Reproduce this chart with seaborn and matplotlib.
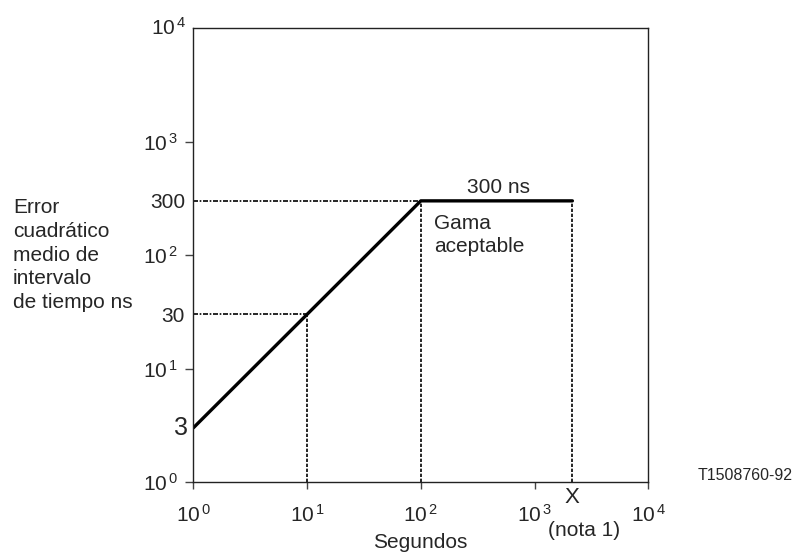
import seaborn as sns
import matplotlib.pyplot as plt
from matplotlib.ticker import FixedLocator, FixedFormatter

# curve: error grows from 3 ns at 1 s to 300 ns at 100 s, then flat to X
seg_x = [1, 10, 100, 2150]
seg_y = [3, 30, 300, 300]

# guide lines
guide_levels = [30, 300]
guide_times = [10, 100, 2150]

x_decades = [1, 10, 100, 1000, 10000]
x_labels = ["0", "1", "2", "3", "4"]
y_decades = [1, 10, 100, 1000]
y_labels = ["0", "1", "2", "3"]
y_marks = [30, 300]

sns.set_theme(style="white")
plt.rcParams['font.family'] = ['Liberation Sans', 'DejaVu Sans']
plt.rcParams['mathtext.fontset'] = 'custom'
plt.rcParams['mathtext.rm'] = 'Liberation Sans'
plt.rcParams['font.size'] = 15

fig = plt.figure(figsize=(7.95, 5.56), dpi=100)
ax = fig.add_axes([0.2432, 0.1331, 0.5723, 0.8165])

sns.lineplot(x=seg_x, y=seg_y, sort=False, color='black', lw=2.4, ax=ax,
             estimator=None)

ax.set_xscale('log')
ax.set_yscale('log')
ax.set_xlim(1, 10000)
ax.set_ylim(1, 10000)

# dotted guides
ax.hlines(guide_levels, 1, guide_times[:2], colors='black', lw=1.2,
          linestyles=[(0, (3, 1, 1, 1))])
ax.vlines(guide_times, 1, [30, 300, 300], colors='black', lw=1.2,
          linestyles=[(0, (2, 1))])

ax.xaxis.set_major_locator(FixedLocator(x_decades))
ax.xaxis.set_major_formatter(FixedFormatter(
    [r'$\mathregular{10^{\,%s}}$' % s for s in x_labels]))
ax.xaxis.set_minor_locator(FixedLocator([]))
ax.yaxis.set_major_locator(FixedLocator(y_decades))
ax.yaxis.set_major_formatter(FixedFormatter(
    [r'$\mathregular{10^{\,%s}}$' % s for s in y_labels]))
ax.yaxis.set_minor_locator(FixedLocator(y_marks))
ax.yaxis.set_minor_formatter(FixedFormatter([str(v) for v in y_marks]))

ax.tick_params(axis='x', which='major', direction='out', length=5, width=1,
               color='#444444', pad=11, labelsize=15, bottom=True)
ax.tick_params(axis='y', which='major', direction='out', length=6, width=1,
               color='#444444', pad=5, labelsize=15, left=True)
ax.tick_params(axis='y', which='minor', length=0, pad=6, labelsize=15)

for sp in ax.spines.values():
    sp.set_color('#222222')
    sp.set_linewidth(1.0)

# extra labels
ax.text(-0.012, 3, '3', transform=ax.get_yaxis_transform(), ha='right',
        va='center', fontsize=18)
ax.text(-0.015, 10000, r'$\mathregular{10^{\,4}}$',
        transform=ax.get_yaxis_transform(), ha='right', va='center',
        fontsize=15)
ax.text(480, 325, '300 ns', ha='center', va='bottom', fontsize=15)
ax.text(130, 230, 'Gama\naceptable', ha='left', va='top', fontsize=15,
        linespacing=1.3)
ax.text(2150, -0.035, 'X', transform=ax.get_xaxis_transform(),
        ha='center', va='center', fontsize=16)
ax.text(2700, -0.106, '(nota 1)', transform=ax.get_xaxis_transform(),
        ha='center', va='center', fontsize=15)

fig.text(420 / 795, 1 - 542 / 556, 'Segundos', ha='center', va='center',
         fontsize=15)
fig.text(13 / 795, 1 - 198 / 556,
         'Error\ncuadrático\nmedio de\nintervalo\nde tiempo ns',
         ha='left', va='top', fontsize=15, linespacing=1.32)
fig.text(745 / 795, 1 - 475 / 556, 'T1508760-92', ha='center',
         va='center', fontsize=11.5)

fig.savefig('out.png', dpi=100)
